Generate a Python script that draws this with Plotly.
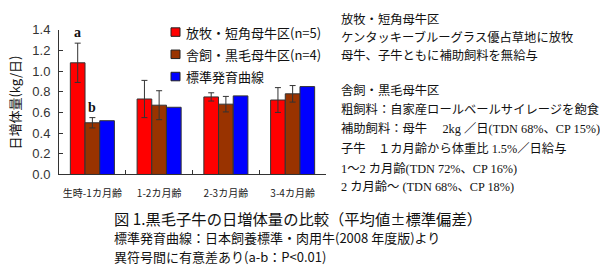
import plotly.graph_objects as go

categories = ["生時-1カ月齢", "1-2カ月齢", "2-3カ月齢", "3-4カ月齢"]
series_names = ["放牧・短角母牛区(n=5)", "舎飼・黒毛母牛区(n=4)", "標準発育曲線"]
grazing = [1.08, 0.73, 0.75, 0.72]
grazing_sd = [0.19, 0.18, 0.04, 0.12]
housed = [0.50, 0.67, 0.68, 0.78]
housed_sd = [0.05, 0.14, 0.075, 0.08]
standard = [0.52, 0.65, 0.76, 0.85]
colors = ["#FF0000", "#993300", "#0000FF"]
y_ticks = [0.0, 0.2, 0.4, 0.6, 0.8, 1.0, 1.2, 1.4]
sig_letters = ["a", "b"]

right_lines = [
    ("放牧・短角母牛区", 12.7, "gothic"),
    ("ケンタッキーブルーグラス優占草地に放牧", 32.0, "gothic"),
    ("母牛、子牛ともに補助飼料を無給与", 51.0, "gothic"),
    ("舎飼・黒毛母牛区", 87.3, "gothic"),
    ("粗飼料：自家産ロールベールサイレージを飽食", 107.5, "gothic"),
    ("補助飼料：母牛　 2kg ／日(TDN 68%、CP 15%)", 128.5, "serif"),
    ("子牛　１カ月齢から体重比 1.5%／日給与", 149.5, "serif"),
    ("1～2 カ月齢(TDN 72%、CP 16%)", 170.7, "serif"),
    ("2 カ月齢～ (TDN 68%、CP 18%)", 190.7, "serif"),
]
caption_lines = [
    ("図 1.黒毛子牛の日増体量の比較（平均値±標準偏差）", 222.5, 15.3),
    ("標準発育曲線：日本飼養標準・肉用牛(2008 年度版)より", 243.8, 13),
    ("異符号間に有意差あり(a-b：P<0.01)", 263.5, 13),
]

W, H = 600, 279
GOTHIC = "Noto Sans CJK JP"
SERIF_MIX = "Liberation Serif, Noto Sans CJK JP"

def px(x):
    return x / W

def py(y):
    return 1 - y / H

err_style = dict(type="data", visible=True, color="#333333", thickness=1, width=3)
bar_line = dict(color="#333333", width=1)

fig = go.Figure()
fig.add_trace(go.Bar(x=categories, y=grazing, name=series_names[0],
                     marker=dict(color=colors[0], line=bar_line),
                     error_y=dict(array=grazing_sd, **err_style)))
fig.add_trace(go.Bar(x=categories, y=housed, name=series_names[1],
                     marker=dict(color=colors[1], line=bar_line),
                     error_y=dict(array=housed_sd, **err_style)))
fig.add_trace(go.Bar(x=categories, y=standard, name=series_names[2],
                     marker=dict(color=colors[2], line=bar_line)))

shapes = []
annotations = []

# manual legend
legend_y = [26.5, 50, 73.5]
for i, name in enumerate(series_names):
    cy = legend_y[i]
    shapes.append(dict(type="rect", xref="paper", yref="paper",
                       x0=px(171), x1=px(180), y0=py(cy + 4.5), y1=py(cy - 4.5),
                       fillcolor=colors[i], line=dict(color="#222222", width=1)))
    annotations.append(dict(text=name, xref="paper", yref="paper", x=px(184), y=py(cy),
                            xanchor="left", yanchor="middle", showarrow=False,
                            font=dict(family=GOTHIC, size=13, color="#111111")))

# significance letters
annotations.append(dict(text="<b>a</b>", x=categories[0], y=grazing[0] + grazing_sd[0],
                        xref="x", yref="y", xshift=-15, yshift=1, yanchor="bottom",
                        showarrow=False,
                        font=dict(family="Liberation Serif", size=14, color="#111111")))
annotations.append(dict(text="<b>b</b>", x=categories[0], y=housed[0] + housed_sd[0],
                        xref="x", yref="y", xshift=0, yshift=1, yanchor="bottom",
                        showarrow=False,
                        font=dict(family="Liberation Serif", size=14, color="#111111")))

# y axis title
annotations.append(dict(text="日増体量(kg/日)", xref="paper", yref="paper",
                        x=px(15), y=py(101), textangle=-90, showarrow=False,
                        xanchor="center", yanchor="middle",
                        font=dict(family=GOTHIC, size=13, color="#111111")))

# right text block
for text, y, kind in right_lines:
    annotations.append(dict(text=text, xref="paper", yref="paper", x=px(339), y=py(y),
                            xanchor="left", yanchor="middle", showarrow=False,
                            font=dict(family=GOTHIC if kind == "gothic" else SERIF_MIX,
                                      size=12.3, color="#111111")))

# caption
for text, y, size in caption_lines:
    annotations.append(dict(text=text, xref="paper", yref="paper", x=px(112), y=py(y),
                            xanchor="left", yanchor="middle", showarrow=False,
                            font=dict(family=GOTHIC, size=size, color="#111111")))

fig.update_layout(
    width=W, height=H,
    margin=dict(l=0, r=0, t=0, b=0),
    paper_bgcolor="white", plot_bgcolor="white",
    barmode="group", bargap=0.34, bargroupgap=0,
    showlegend=False,
    xaxis=dict(domain=[px(59), px(326)], showline=True, linecolor="#333333", linewidth=1,
               ticks="inside", ticklen=4, tickcolor="#333333", tickson="boundaries",
               showgrid=False, zeroline=False, tickangle=0, ticklabelstandoff=10,
               tickfont=dict(family=GOTHIC, size=10, color="#222222")),
    yaxis=dict(domain=[py(177), py(24)], range=[0, 1.4], tickvals=y_ticks,
               tickformat=".1f", showline=True, linecolor="#333333", linewidth=1,
               ticks="inside", ticklen=4, tickcolor="#333333", showgrid=False,
               zeroline=False, ticklabelstandoff=5,
               tickfont=dict(family="Liberation Sans", size=13, color="#333333")),
    shapes=shapes,
    annotations=annotations,
)

fig.write_html("out.html")
